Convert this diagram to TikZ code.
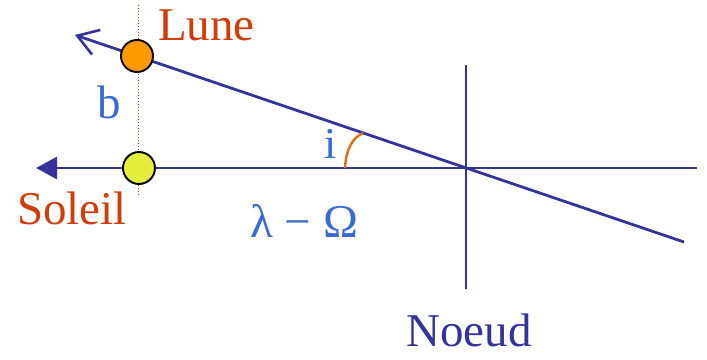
\documentclass[tikz,border=0pt]{standalone}
\usepackage{fontspec}
\setmainfont{Liberation Serif}
\usetikzlibrary{arrows.meta}
\definecolor{lineblue}{HTML}{333399}
\definecolor{txtblue}{HTML}{3A6ACF}
\definecolor{txtred}{HTML}{D03C0C}
\definecolor{arcorange}{HTML}{D8700E}
\definecolor{moonfill}{HTML}{FF9A00}
\definecolor{sunfill}{HTML}{E6EE3C}
\tikzset{
  mainline/.style={draw=lineblue, line width=2.8pt},
  body/.style={circle, draw=black, line width=1.9pt, minimum size=32pt, inner sep=0pt},
  lbl/.style={font=\fontsize{47}{50}\selectfont, inner sep=0pt, anchor=base west},
}
\begin{document}
\begin{tikzpicture}[x=1pt,y=-1pt]
\useasboundingbox (0,0) rectangle (707,359);
% coordinates
\coordinate (N) at (466,168);
\coordinate (hL) at (36,168);
\coordinate (hR) at (697,168);
\coordinate (iL) at (75,35);
\coordinate (iR) at (684,242);
\coordinate (vT) at (466,65);
\coordinate (vB) at (466,289);
\coordinate (dT) at (138,5);
\coordinate (dB) at (138,197);
% dotted red line
\draw[txtred, line width=1pt, dotted] (dT) -- (dB);
% vertical line
\draw[draw=lineblue, line width=1.8pt] (vT) -- (vB);
% horizontal line with filled arrow
\draw[mainline, -{Triangle[length=21pt,width=22pt]}] (hR) -- (hL);
% inclined line with open arrow
\draw[mainline, -{Straight Barb[length=20pt,width=26pt,line width=2.6pt]}] (iR) -- (iL);
% angle arc
\coordinate (a1) at (345,168);
\coordinate (a2) at (363,133);
\draw[arcorange, line width=2.4pt] (a1) .. controls (346,150) and (352,138) .. (a2);
% bodies
\node[body, fill=moonfill] (lune) at (137,56) {};
\node[body, fill=sunfill] (soleil) at (139,168) {};
% labels
\node[lbl, text=txtred] (tlune) at (158,40) {Lune};
\node[lbl, text=txtred] (tsoleil) at (17,224) {Soleil};
\node[lbl, text=txtblue] (tb) at (97,118) {b};
\node[lbl, text=txtblue, font=\fontsize{44}{48}\selectfont] (ti) at (324,158) {i};
\node[lbl, text=txtblue] (tlo) at (250,237) {λ − Ω};
\node[lbl, text=lineblue] (tnoeud) at (406,346) {Noeud};
\end{tikzpicture}
\end{document}
